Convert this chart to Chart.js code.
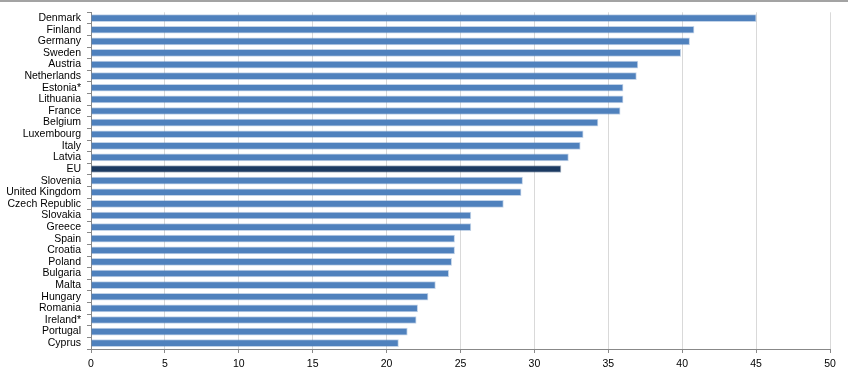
<!DOCTYPE html>
<html>
<head>
<meta charset="utf-8">
<script src="https://cdn.jsdelivr.net/npm/chart.js@4/dist/chart.umd.min.js"></script>
<style>
  html, body { margin: 0; padding: 0; background: #fff; }
  #wrap { position: relative; width: 848px; height: 372px; }
  #topline { position: absolute; left: 0; top: 0; width: 848px; height: 2px; background: #a3a3a3; }
  canvas { position: absolute; left: 0; top: 0; }
</style>
</head>
<body>
<div id="wrap">
  <canvas id="c" width="848" height="372"></canvas>
  <div id="topline"></div>
</div>
<script>
const countries = ["Denmark","Finland","Germany","Sweden","Austria","Netherlands","Estonia*","Lithuania","France","Belgium","Luxembourg","Italy","Latvia","EU","Slovenia","United Kingdom","Czech Republic","Slovakia","Greece","Spain","Croatia","Poland","Bulgaria","Malta","Hungary","Romania","Ireland*","Portugal","Cyprus"];
const values = [45.0,40.8,40.5,39.9,37.0,36.9,36.0,36.0,35.8,34.3,33.3,33.1,32.3,31.8,29.2,29.1,27.9,25.7,25.7,24.6,24.6,24.4,24.2,23.3,22.8,22.1,22.0,21.4,20.8];
const xTicks = [0,5,10,15,20,25,30,35,40,45,50];
const highlight = "EU";

const barColor = "#4f81bd";
const euColor = "#1b3a62";

new Chart(document.getElementById("c"), {
  type: "bar",
  data: {
    labels: countries,
    datasets: [{
      data: values,
      backgroundColor: countries.map(c => c === highlight ? euColor : barColor),
      borderColor: countries.map(c => c === highlight ? "rgba(27,58,98,0.35)" : "rgba(79,129,189,0.35)"),
      borderWidth: 1,
      borderSkipped: "start",
      barThickness: 7
    }]
  },
  options: {
    indexAxis: "y",
    responsive: false,
    animation: false,
    devicePixelRatio: 1,
    layout: { padding: { top: 11, right: 18, left: 0, bottom: 0 } },
    plugins: { legend: { display: false }, tooltip: { enabled: false } },
    scales: {
      x: {
        min: 0, max: 50,
        afterBuildTicks: s => { s.ticks = xTicks.map(v => ({ value: v })); },
        afterFit: s => { s.height = 23; },
        grid: { color: "#d9d9d9", lineWidth: 1, tickColor: "#888", tickLength: 4 },
        border: { color: "#888", width: 1 },
        ticks: { color: "#000", padding: 5, font: { family: "Liberation Sans", size: 10.5 }, maxRotation: 0 }
      },
      y: {
        afterFit: s => { s.width = 91; },
        grid: { drawOnChartArea: false, tickColor: "#888", tickLength: 4, offset: true },
        border: { color: "#888", width: 1 },
        ticks: { color: "#000", padding: 6, autoSkip: false, font: { family: "Liberation Sans", size: 10.5 } }
      }
    }
  }
});
</script>
</body>
</html>
